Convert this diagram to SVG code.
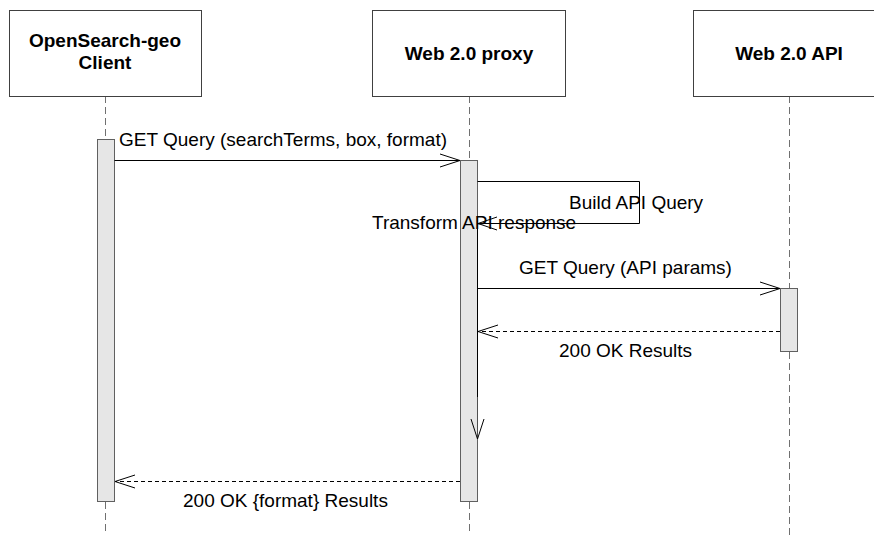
<svg xmlns="http://www.w3.org/2000/svg" width="874" height="535" viewBox="0 0 874 535">
  <defs>
    <style>
      .head { fill: #ffffff; stroke: #404040; stroke-width: 1; }
      .htxt { font-family: "Liberation Sans", Arial, sans-serif; font-size: 19px; font-weight: bold; fill: #000; text-anchor: middle; }
      .lbl { font-family: "Liberation Sans", Arial, sans-serif; font-size: 19px; fill: #000; }
      .life { stroke: #707070; stroke-width: 1; stroke-dasharray: 7 4; fill: none; }
      .act { fill: #e6e6e6; stroke: #606060; stroke-width: 1; }
      .msg { stroke: #000; stroke-width: 1; fill: none; }
      .ret { stroke: #000; stroke-width: 1; fill: none; stroke-dasharray: 4 3; }
      .tip { stroke: #000; stroke-width: 1; fill: none; }
    </style>
  </defs>
  <rect width="874" height="535" fill="#ffffff"/>

  <!-- lifelines -->
  <g id="lifelines">
    <line class="life" x1="105.5" y1="96" x2="105.5" y2="139"/>
    <line class="life" x1="105.5" y1="502" x2="105.5" y2="535"/>
    <line class="life" x1="469.5" y1="96" x2="469.5" y2="160"/>
    <line class="life" x1="469.5" y1="502" x2="469.5" y2="535"/>
    <line class="life" x1="789.5" y1="96" x2="789.5" y2="288"/>
    <line class="life" x1="789.5" y1="352" x2="789.5" y2="535"/>
  </g>

  <!-- participants -->
  <g id="client">
    <rect class="head" x="9.5" y="10.5" width="192" height="86"/>
    <text class="htxt" x="105" y="47">OpenSearch-geo</text>
    <text class="htxt" x="105" y="69">Client</text>
    <rect class="act" x="97.5" y="139.5" width="17" height="362"/>
  </g>
  <g id="proxy">
    <rect class="head" x="372.5" y="10.5" width="193" height="86"/>
    <text class="htxt" x="469" y="60">Web 2.0 proxy</text>
    <rect class="act" x="460.5" y="160.5" width="17" height="341"/>
  </g>
  <g id="api">
    <rect class="head" x="693.5" y="10.5" width="193" height="86"/>
    <text class="htxt" x="789" y="60">Web 2.0 API</text>
    <rect class="act" x="780.5" y="288.5" width="17" height="63"/>
  </g>

  <!-- messages -->
  <g id="connectors">
    <!-- GET Query from client to proxy -->
    <line class="msg" x1="114.5" y1="160.5" x2="460" y2="160.5"/>
    <polyline class="tip" points="440,154 460,160.5 440,167"/>
    <!-- self call: build / transform -->
    <polyline class="msg" points="477.5,181.5 639.5,181.5 639.5,223.5 478,223.5"/>
    <polyline class="tip" points="497,217 478,223.5 497,230"/>
    <!-- processing continues down the proxy activation -->
    <line class="msg" x1="477.5" y1="229" x2="477.5" y2="397"/>
    <line x1="477.5" y1="397" x2="477.5" y2="439" stroke="#505050" stroke-width="1"/>
    <polyline class="tip" points="471,419 477.5,439 484,419"/>
    <!-- GET Query to API -->
    <line class="msg" x1="477.5" y1="288.5" x2="780" y2="288.5"/>
    <polyline class="tip" points="760,282 780,288.5 760,295"/>
    <!-- API response -->
    <line class="ret" x1="780" y1="331.5" x2="478" y2="331.5"/>
    <polyline class="tip" points="498,325 478,331.5 498,338"/>
    <!-- final response to client -->
    <line class="ret" x1="460" y1="481.5" x2="115" y2="481.5"/>
    <polyline class="tip" points="135,475 115,481.5 135,488"/>
  </g>

  <!-- message labels -->
  <g id="labels">
    <text class="lbl" x="119" y="146">GET Query (searchTerms, box, format)</text>
    <text class="lbl" x="569" y="209">Build API Query</text>
    <text class="lbl" x="372" y="229">Transform API response</text>
    <text class="lbl" x="519" y="274">GET Query (API params)</text>
    <text class="lbl" x="559" y="357">200 OK Results</text>
    <text class="lbl" x="183" y="507">200 OK {format} Results</text>
  </g>
</svg>
